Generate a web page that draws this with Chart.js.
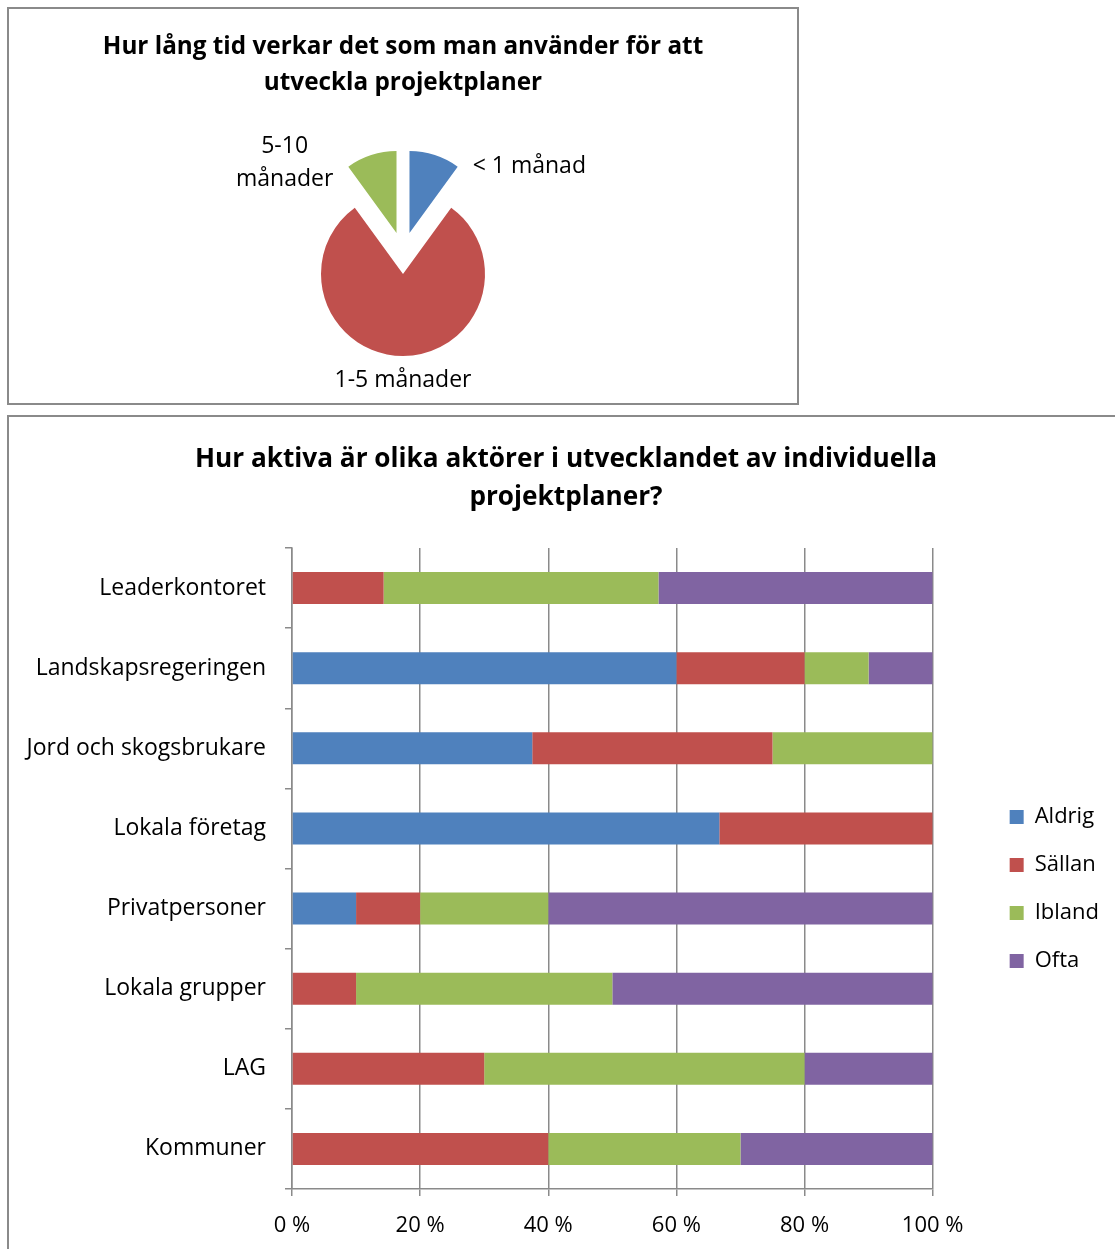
<!DOCTYPE html>
<html>
<head>
<meta charset="utf-8">
<script src="https://cdn.jsdelivr.net/npm/chart.js@4.4.1/dist/chart.umd.min.js"></script>
<style>
  html, body { margin: 0; padding: 0; background: #fff; overflow: hidden; }
  body { width: 1115px; height: 1249px; position: relative; }
  .box { position: absolute; border: 2px solid #8a8a8a; box-sizing: border-box; }
  #pieBox { left: 7px; top: 7px; width: 792px; height: 398px; }
  #barBox { left: 7px; top: 415px; width: 1130px; height: 860px; }
  canvas { position: absolute; }
  #pieChart { left: 9px; top: 9px; }
  #barChart { left: 9px; top: 417px; }
</style>
</head>
<body>
<div class="box" id="pieBox"></div>
<div class="box" id="barBox"></div>
<canvas id="pieChart" width="788" height="394"></canvas>
<canvas id="barChart" width="1115" height="832"></canvas>
<script>
// pie: time spent on project plans
const pieLabels = ['< 1 månad', '1-5 månader', ['5-10', 'månader']];
const pieValues = [10, 80, 10];
const pieColors = ['#4F81BD', '#C0504D', '#9BBB59'];

// stacked bars: how active are the actors (percent)
const actors = ['Leaderkontoret', 'Landskapsregeringen', 'Jord och skogsbrukare', 'Lokala företag',
    'Privatpersoner', 'Lokala grupper', 'LAG', 'Kommuner'];
const aldrig = [0, 60, 37.5, 66.7, 10, 0, 0, 0];
const sallan = [14.3, 20, 37.5, 33.3, 10, 10, 30, 40];
const ibland = [42.9, 10, 25, 0, 20, 40, 50, 30];
const ofta = [42.8, 10, 0, 0, 60, 50, 20, 30];
const xTicks = [0, 20, 40, 60, 80, 100];

Chart.defaults.font.family = '"Open Sans"';
Chart.defaults.color = '#000';

// move every slice out along its middle angle (Excel style explosion)
const explode = {
    id: 'explode',
    afterDatasetUpdate(chart, args, opts) {
        args.meta.data.forEach(arc => {
            const mid = (arc.startAngle + arc.endAngle) / 2;
            arc.x += Math.cos(mid) * opts.distance;
            arc.y += Math.sin(mid) * opts.distance;
        });
    }
};

// category names next to the slices
const sliceLabels = {
    id: 'sliceLabels',
    afterDatasetsDraw(chart) {
        const ctx = chart.ctx;
        const arcs = chart.getDatasetMeta(0).data;
        ctx.save();
        ctx.font = '23px "Open Sans"';
        ctx.fillStyle = '#000';
        ctx.textBaseline = 'middle';
        ctx.textAlign = 'center';
        arcs.forEach((arc, i) => {
            const lines = [].concat(chart.data.labels[i]);
            const mid = (arc.startAngle + arc.endAngle) / 2;
            const c = Math.cos(mid);
            const r = arc.outerRadius;
            let cx, cy;
            if (Math.abs(c) < 0.2) {
                cx = arc.x + c * (r + 24);
                cy = arc.y + Math.sin(mid) * (r + 24);
            } else {
                const a = c > 0 ? arc.endAngle : arc.startAngle;
                const px = arc.x + Math.cos(a) * r;
                const py = arc.y + Math.sin(a) * r;
                const w = Math.max(...lines.map(t => ctx.measureText(t).width));
                cx = c > 0 ? px + 15 + w / 2 : px - 15 - w / 2;
                cy = py - 4 * (lines.length - 1);
            }
            lines.forEach((t, k) => ctx.fillText(t, cx, cy + (k - (lines.length - 1) / 2) * 33));
        });
        ctx.restore();
    }
};

new Chart(document.getElementById('pieChart'), {
    type: 'pie',
    data: {
        labels: pieLabels,
        datasets: [{ data: pieValues, backgroundColor: pieColors, borderWidth: 0 }]
    },
    options: {
        responsive: false,
        animation: false,
        radius: 82,
        plugins: {
            explode: { distance: 21 },
            legend: { display: false },
            tooltip: { enabled: false },
            title: {
                display: true,
                text: ['Hur lång tid verkar det som man använder för att', 'utveckla projektplaner'],
                font: { size: 24.3, weight: 'bold', lineHeight: '36px' },
                color: '#000',
                padding: { top: 20, bottom: 2 }
            }
        }
    },
    plugins: [explode, sliceLabels]
});

new Chart(document.getElementById('barChart'), {
    type: 'bar',
    data: {
        labels: actors,
        datasets: [
            { label: 'Aldrig', data: aldrig, backgroundColor: '#4F81BD' },
            { label: 'Sällan', data: sallan, backgroundColor: '#C0504D' },
            { label: 'Ibland', data: ibland, backgroundColor: '#9BBB59' },
            { label: 'Ofta', data: ofta, backgroundColor: '#8064A2' }
        ]
    },
    options: {
        indexAxis: 'y',
        responsive: false,
        animation: false,
        datasets: { bar: { barPercentage: 0.4, categoryPercentage: 1 } },
        layout: { padding: { left: 14, right: 15, top: 0, bottom: 12 } },
        plugins: {
            tooltip: { enabled: false },
            title: {
                display: true,
                text: ['Hur aktiva är olika aktörer i utvecklandet av individuella', 'projektplaner?'],
                font: { size: 26.2, weight: 'bold', lineHeight: '38px' },
                color: '#000',
                padding: { top: 24, bottom: 31 }
            },
            legend: {
                position: 'right',
                fullSize: false,
                align: 'center',
                title: { display: true, text: '', padding: 0, font: { lineHeight: '41px' } },
                labels: { boxWidth: 14, boxHeight: 14, padding: 26, font: { size: 22 }, color: '#000' }
            }
        },
        scales: {
            x: {
                stacked: true,
                min: 0,
                max: 100,
                afterBuildTicks: s => { s.ticks = xTicks.map(v => ({ value: v })); },
                ticks: { callback: v => v + ' %', padding: 17, font: { size: 22 } },
                grid: { color: '#8a8a8a', lineWidth: 1.5, tickLength: 7 },
                border: { color: '#8a8a8a', width: 1.5 },
                afterFit: s => { s.height = 48; }
            },
            y: {
                stacked: true,
                ticks: { padding: 19, font: { size: 23 } },
                grid: { drawOnChartArea: false, offset: true, color: '#8a8a8a', lineWidth: 1.5, tickLength: 7 },
                border: { color: '#8a8a8a', width: 1.5 },
                afterFit: s => { s.width = 269; }
            },
            // empty spacer between plot and legend
            pad: {
                type: 'category',
                position: 'right',
                grid: { display: false },
                border: { display: false },
                ticks: { display: false },
                afterFit: s => { s.width = 51; }
            }
        }
    }
});
</script>
</body>
</html>
